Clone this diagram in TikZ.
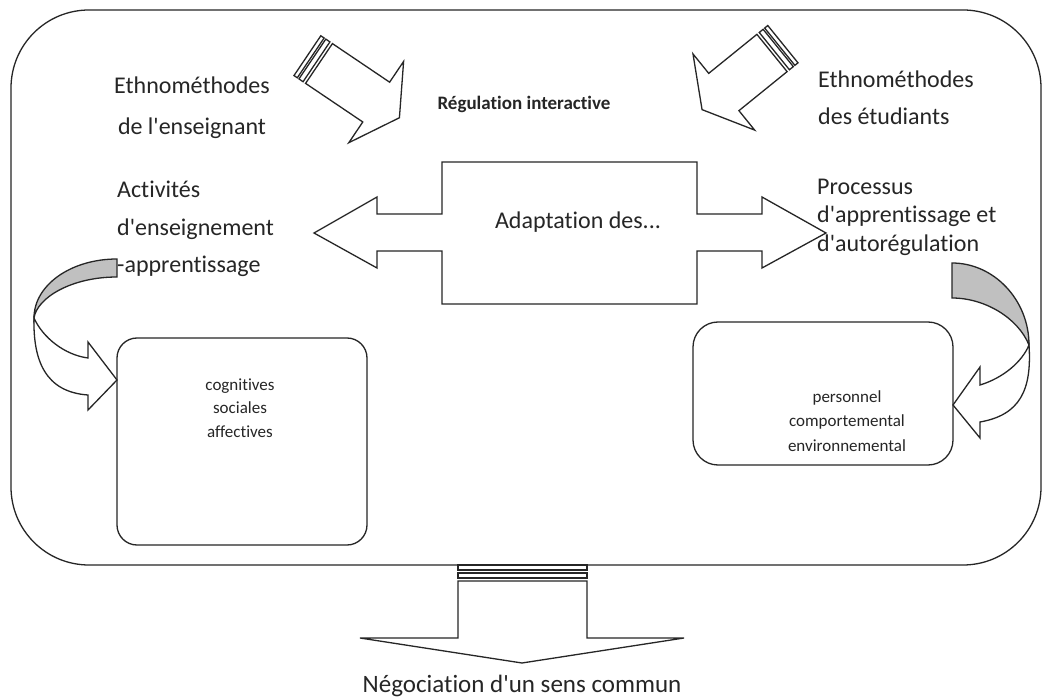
\documentclass[tikz,border=0pt]{standalone}
\usepackage{fontspec}
\setmainfont{Carlito}[Ligatures={NoCommon}]
\definecolor{ink}{RGB}{38,38,38}
\definecolor{backgray}{RGB}{192,192,192}
\newcommand{\sqt}{\textquotesingle}
\begin{document}
\begin{tikzpicture}[x=1pt,y=-1pt,
  outline/.style={draw=ink, line width=1.3pt, line join=miter},
  lbl/.style={text=ink, inner sep=0pt, font=\fontsize{24}{41}\selectfont},
  small/.style={text=ink, inner sep=0pt, font=\fontsize{17}{23.5}\selectfont},
  % block arrow with two tail stripes, drawn along +x; #1 = shaft length
  stripedarrow/.pic={
    \draw[outline, fill=white] (0,-24) -- (#1,-24) -- (#1,-49) -- (#1+28,0)
      -- (#1,49) -- (#1,24) -- (0,24) -- cycle;
    \draw[outline, fill=white] (-3,-24) rectangle (-8,24);
    \draw[outline, fill=white] (-10,-24) rectangle (-14,24);
  }]
\fill[white] (0,0) rectangle (1042,700);
\useasboundingbox (0,0) rectangle (1042,700);

% outer frame
\draw[outline, rounded corners=78pt] (11,10) rectangle (1041,565);

% outgoing arrow at the bottom
\draw[outline, fill=white] (458,581) -- (587,581) -- (587,638) -- (684,638)
  -- (522,663) -- (360,638) -- (458,638) -- cycle;
\draw[outline, fill=white] (458,565) rectangle (587,570);
\draw[outline, fill=white] (458,573) rectangle (587,578);

% incoming ethnomethod arrows
\pic[rotate=-34] (tlarrow) at (319,63.5) {stripedarrow=69};
\pic[rotate=219] (trarrow) at (772,53) {stripedarrow=62};

% central double arrow
\draw[outline, fill=white] (314,233) -- (377,197) -- (377,214) -- (442,214)
  -- (442,162) -- (697,162) -- (697,214) -- (762,214) -- (762,197) -- (826,233)
  -- (762,268) -- (762,251) -- (697,251) -- (697,304) -- (442,304) -- (442,251)
  -- (377,251) -- (377,268) -- cycle;

% dimension boxes
\draw[outline, rounded corners=20pt] (117,338) rectangle (367,545);
\draw[outline, rounded corners=25pt] (693,322) rectangle (953,465);

% curved arrow on the left
\draw[outline, fill=backgray] (117,259) .. controls (71,259) and (34,285) .. (34,318)
  .. controls (37,298) and (71,277) .. (117,277) -- cycle;
\draw[outline, fill=white] (34,318) .. controls (33,360) and (45,392) .. (88,395)
  -- (88,410) -- (117,380) -- (88,342) -- (88,358)
  .. controls (65,355) and (43,338) .. (34,318) -- cycle;

% curved arrow on the right
\draw[outline, fill=backgray] (952,263) .. controls (994,263) and (1029,300) .. (1029,345)
  .. controls (1018,318) and (985,298) .. (952,298) -- cycle;
\draw[outline, fill=white] (1029,345) .. controls (1032,390) and (1020,415) .. (980,422)
  -- (980,438) -- (953,405) -- (980,367) -- (980,385)
  .. controls (1003,378) and (1022,362) .. (1029,345) -- cycle;

% labels
\node[lbl, align=center] (ethnoL) at (192,108) {Ethnométhodes\\de l\sqt{}enseignant};
\node[lbl, align=left, anchor=west, font=\fontsize{24}{37}\selectfont] (ethnoR) at (818,98) {Ethnométhodes\\des étudiants};
\node[text=ink, inner sep=0pt, font=\fontsize{19}{23}\selectfont\bfseries] (regul) at (524,104) {Régulation interactive};
\node[lbl, align=left, anchor=west, font=\fontsize{24}{37.5}\selectfont] (activ) at (117,229) {Activités\\d\sqt{}enseignement\\-apprentissage};
\node[lbl, align=left, anchor=west, font=\fontsize{24}{28.5}\selectfont] (proc) at (817,217) {Processus\\d\sqt{}apprentissage et\\d\sqt{}autorégulation};
\node[lbl] (adapt) at (578,222) {Adaptation des...};
\node[small, align=center] (cogn) at (240,408) {cognitives\\sociales\\affectives};
\node[small, align=center, font=\fontsize{17}{24.5}\selectfont] (perso) at (847,421) {personnel\\comportemental\\environnemental};
\node[lbl, font=\fontsize{25}{30}\selectfont] (nego) at (522,686) {Négociation d\sqt{}un sens commun};
\end{tikzpicture}
\end{document}
